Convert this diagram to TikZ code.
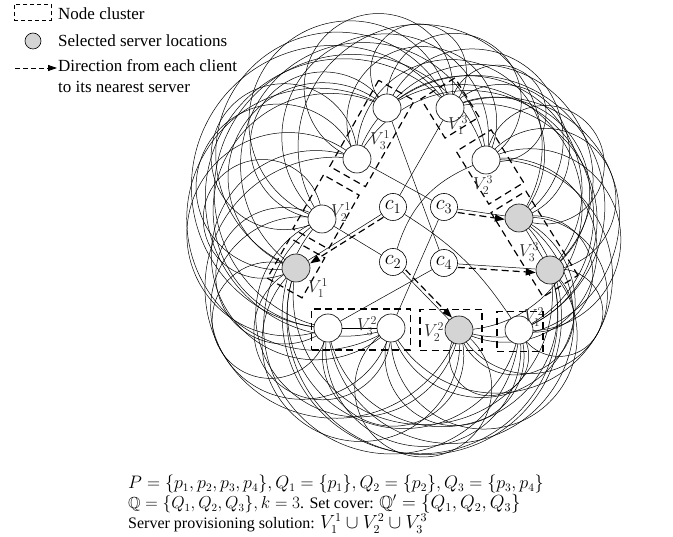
\documentclass[tikz,border=0pt]{standalone}
\usepackage{amssymb}
\usepackage{graphicx}
\usepackage[no-math]{fontspec}
\setmainfont{Liberation Serif}
\usetikzlibrary{arrows.meta,calc}
\pgfdeclarelayer{bg}
\pgfsetlayers{bg,main}
\begin{document}
\begin{tikzpicture}[x=1pt,y=1pt,
  vn/.style={circle,draw,line width=0.6pt,minimum size=28pt,inner sep=0pt,fill=white},
  sv/.style={vn,fill=black!17},
  cn/.style={circle,draw,line width=0.6pt,minimum size=27pt,inner sep=0pt,fill=white,font=\fontsize{21}{21}\selectfont},
  arcline/.style={line width=0.5pt},
  lnk/.style={line width=0.5pt},
  darr/.style={line width=1.2pt,dash pattern=on 7pt off 4pt,-{Triangle[length=10pt,width=7pt]}},
  cbox/.style={draw,line width=1.2pt,dash pattern=on 7pt off 4.5pt,inner sep=0pt,fill=none},
  vl/.style={font=\fontsize{17.28}{17.28}\selectfont,text=black!85,inner sep=0pt},
  lt/.style={font=\fontsize{17}{21}\selectfont,inner sep=0pt,anchor=west,align=left},
  larr/.style={line width=0.8pt,dash pattern=on 5pt off 3pt,-{Triangle[length=9pt,width=6pt]}}
]
\useasboundingbox (0,0) rectangle (673,-537);

% legend
\node[draw,line width=0.6pt,dash pattern=on 4pt off 3pt,minimum width=37pt,minimum height=16pt,inner sep=0pt] (lgbox) at (32.5,-12.5) {};
\node[lt] (lgt1) at (58,-13.5) {Node cluster};
\node[circle,draw,line width=0.6pt,fill=black!17,minimum size=16pt,inner sep=0pt] (lgc) at (33,-41) {};
\node[lt] (lgt2) at (58,-41) {Selected server locations};
\coordinate (la1) at (15,-68);
\coordinate (la2) at (57,-68);
\draw[larr] (la1) -- (la2);
\node[lt,anchor=north west] (lgt3) at (58,-59) {Direction from each client\\to its nearest server};

% outer nodes
\node[sv] (l1) at (296,-268) {};
\node[vn] (l2) at (322,-219) {};
\node[vn] (l3b) at (357,-159) {};
\node[vn] (l3a) at (387,-108) {};
\node[vn] (r1) at (450,-108) {};
\node[vn] (r2) at (486,-160) {};
\node[sv] (r3a) at (519,-218) {};
\node[sv] (r3b) at (550,-270) {};
\node[vn] (b1) at (519,-330) {};
\node[sv] (b2) at (459,-330) {};
\node[vn] (b3b) at (391,-328) {};
\node[vn] (b3a) at (328,-328) {};
% clients
\node[cn] (c1) at (393,-207) {$c_1$};
\node[cn] (c2) at (393,-262) {$c_2$};
\node[cn] (c3) at (444,-207) {$c_3$};
\node[cn] (c4) at (444,-263) {$c_4$};

% cluster labels
\node[vl] (v31) at (380,-140) {$V_3^1$};
\node[vl] (v21) at (341,-212) {$V_2^1$};
\node[vl] (v11) at (318,-288) {$V_1^1$};
\node[vl] (v13) at (458,-125) {$V_1^3$};
\node[vl] (v23) at (483,-185) {$V_2^3$};
\node[vl] (v33) at (529,-252) {$V_3^3$};
\node[vl] (v32) at (367,-326) {$V_3^2$};
\node[vl] (v22) at (434,-332) {$V_2^2$};
\node[vl] (v12) at (534,-317) {$V_1^2$};

% name/x/y (relative to centre, units of 100pt, y up)/cluster
\def\outernodes{l3a/-0.35/1.275/1,r1/0.28/1.275/2,l3b/-0.65/0.765/1,r2/0.64/0.755/4,l2/-1.00/0.165/5,r3a/0.97/0.175/6,l1/-1.26/-0.325/7,r3b/1.28/-0.345/6,b3a/-0.94/-0.925/9,b3b/-0.31/-0.925/9,b2/0.37/-0.945/11,b1/0.97/-0.945/12}

\begin{pgfonlayer}{bg}
\foreach \na/\xa/\ya/\ka [count=\i] in \outernodes {
  \foreach \nb/\xb/\yb/\kb [count=\j] in \outernodes {
    \ifnum\j>\i
    \ifnum\ka=\kb\else
      \pgfmathsetmacro\ta{atan2(\ya,\xa)}
      \pgfmathsetmacro\tb{atan2(\yb,\xb)}
      \pgfmathsetmacro\dd{mod(\tb-\ta+540,360)-180}
      \pgfmathsetmacro\tm{\ta+\dd/2}
      \pgfmathsetmacro\rext{2.22-0.24*cos(\tm)-0.11*mod(\i+2*\j,4)}
      \pgfmathsetmacro\xm{\rext*cos(\tm)}
      \pgfmathsetmacro\ym{\rext*sin(\tm)}
      \pgfmathsetmacro\dt{2*(\xa*(\yb-\ym)+\xb*(\ym-\ya)+\xm*(\ya-\yb))}
      \pgfmathsetmacro\qa{\xa*\xa+\ya*\ya}
      \pgfmathsetmacro\qb{\xb*\xb+\yb*\yb}
      \pgfmathsetmacro\qm{\xm*\xm+\ym*\ym}
      \pgfmathsetmacro\ux{(\qa*(\yb-\ym)+\qb*(\ym-\ya)+\qm*(\ya-\yb))/\dt}
      \pgfmathsetmacro\uy{(\qa*(\xm-\xb)+\qb*(\xa-\xm)+\qm*(\xb-\xa))/\dt}
      \pgfmathsetmacro\rr{100*veclen(\xa-\ux,\ya-\uy)}
      \pgfmathsetmacro\aone{atan2(\ya-\uy,\xa-\ux)}
      \pgfmathsetmacro\atwo{atan2(\yb-\uy,\xb-\ux)}
      \pgfmathsetmacro\amid{atan2(\ym-\uy,\xm-\ux)}
      \pgfmathsetmacro\swp{mod(\atwo-\aone+720,360)}
      \pgfmathsetmacro\swm{mod(\amid-\aone+720,360)}
      \pgfmathsetmacro\aend{(\swm<\swp) ? \aone+\swp : \aone+\swp-360}
      \draw[arcline] (\na) arc[start angle=\aone,end angle=\aend,radius=\rr pt];
    \fi
    \fi
  }
}
% client links
\draw[lnk] (c1) -- (l1);
\draw[lnk] (c1) -- (r1);
\draw[lnk] (c1) to[bend left=12] (b1);
\draw[lnk] (c2) -- (l2);
\draw[lnk] (c2) -- (b2);
\draw[lnk] (c2) to[bend left=25] (r2);
\draw[lnk] (c3) -- (l3b);
\draw[lnk] (c3) -- (r3a);
\draw[lnk] (c3) -- (b3b);
\draw[lnk] (c4) -- (l3a);
\draw[lnk] (c4) -- (r3b);
\draw[lnk] (c4) -- (b3a);
\draw[lnk] (b3a) -- (b3b);
\draw[lnk] (r3a) -- (r3b);
% dashed arrows
\draw[darr,transform canvas={shift={(2pt,-3pt)}}] (c1) -- (l1);
\draw[darr,transform canvas={shift={(3pt,2pt)}}] (c2) -- (b2);
\draw[darr,transform canvas={yshift=-3.5pt}] (c3) -- (r3a);
\draw[darr,transform canvas={yshift=-3.5pt}] (c4) -- (r3b);
% cluster boxes
\node[cbox,minimum width=46pt,minimum height=40pt] (bx12) at (520,-331.7) {};
\node[cbox,minimum width=62pt,minimum height=41pt] (bx22) at (451,-329.7) {};
\node[cbox,minimum width=99pt,minimum height=41pt] (bx32) at (361,-329.5) {};
\node[cbox,minimum width=46pt,minimum height=40pt,rotate=60.4] (bx11) at (296,-268) {};
\node[cbox,minimum width=62pt,minimum height=41pt,rotate=60.4] (bx21) at (326,-212) {};
\node[cbox,minimum width=99pt,minimum height=41pt,rotate=60.4] (bx31) at (372,-133.5) {};
\node[cbox,minimum width=46pt,minimum height=40pt,rotate=-58.3] (bx13) at (450,-108) {};
\node[cbox,minimum width=62pt,minimum height=41pt,rotate=-58.3] (bx23) at (490,-167) {};
\node[cbox,minimum width=99pt,minimum height=41pt,rotate=-58.3] (bx33) at (534.5,-244) {};
\end{pgfonlayer}

% bottom text
\node[font=\fontsize{16}{20}\selectfont,align=left,anchor=north west,inner sep=0pt] (txt) at (128,-475)
{\scalebox{1.045}{$P=\{p_1,p_2,p_3,p_4\},Q_1=\{p_1\},Q_2=\{p_2\},Q_3=\{p_3,p_4\}$}\\
$\mathbb{Q}=\{Q_1,Q_2,Q_3\},k=3$. Set cover: \scalebox{1.1}{$\mathbb{Q}'=\{Q_1,Q_2,Q_3\}$}\\
Server provisioning solution: \scalebox{1.1}{$V_1^1\cup V_2^2\cup V_3^3$}};
\end{tikzpicture}
\end{document}
